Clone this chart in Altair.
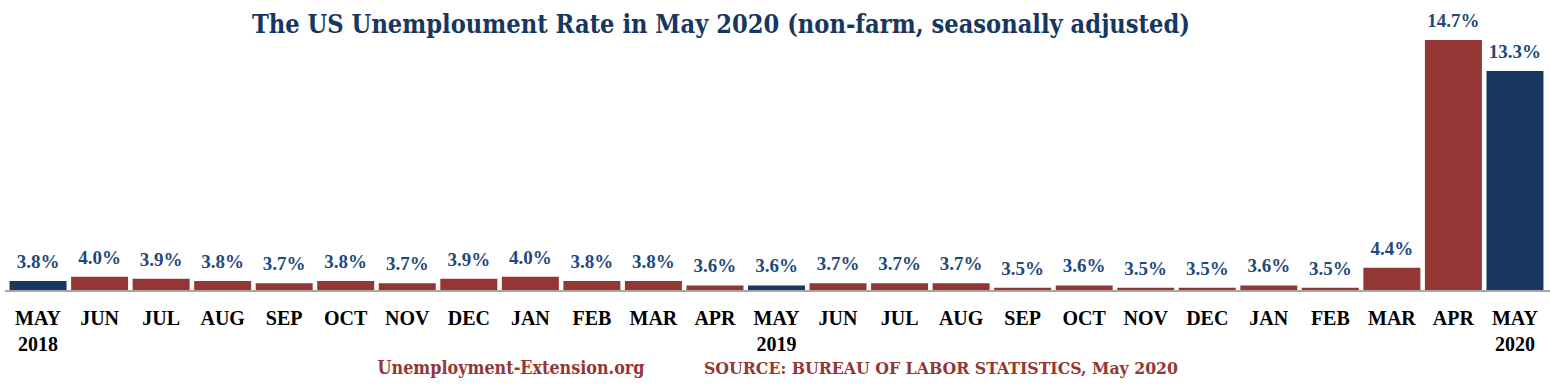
import altair as alt
import pandas as pd

months = ["MAY","JUN","JUL","AUG","SEP","OCT","NOV","DEC","JAN","FEB","MAR","APR",
          "MAY","JUN","JUL","AUG","SEP","OCT","NOV","DEC","JAN","FEB","MAR","APR","MAY"]
years = ["2018","","","","","","","","","","","",
         "2019","","","","","","","","","","","","2020"]
rates = [3.8,4.0,3.9,3.8,3.7,3.8,3.7,3.9,4.0,3.8,3.8,3.6,
         3.6,3.7,3.7,3.7,3.5,3.6,3.5,3.5,3.6,3.5,4.4,14.7,13.3]
keys = ["2018-05","2018-06","2018-07","2018-08","2018-09","2018-10","2018-11","2018-12",
        "2019-01","2019-02","2019-03","2019-04","2019-05","2019-06","2019-07","2019-08",
        "2019-09","2019-10","2019-11","2019-12","2020-01","2020-02","2020-03","2020-04","2020-05"]
BASE = 3.35
TOP = 14.7
title_text = "The US Unemploument Rate in May 2020 (non-farm, seasonally adjusted)"
footer_left = "Unemployment-Extension.org"
footer_right = "SOURCE: BUREAU OF LABOR STATISTICS, May 2020"

RED = "#943634"
NAVY = "#17375E"
LABEL = "#1F497D"

df = pd.DataFrame({
    "key": keys, "month": months, "year": years, "rate": rates,
    "label": [f"{r:.1f}%" for r in rates],
    "group": ["may" if m == "MAY" else "other" for m in months],
})

W, H = 1543, 251
FONT = "Liberation Serif"
TFONT = "DejaVu Serif Condensed"

x = alt.X("key:N", sort=keys, axis=None,
          scale=alt.Scale(paddingInner=0.074, paddingOuter=0.074))
y = alt.Y("rate:Q", axis=None, scale=alt.Scale(domain=[BASE, TOP], nice=False, zero=False))

base = alt.Chart(df)
bars = base.mark_bar().encode(
    x=x, y=y, y2=alt.datum(BASE),
    color=alt.Color("group:N", scale=alt.Scale(domain=["may", "other"], range=[NAVY, RED]), legend=None),
)
vals = base.mark_text(font=FONT, fontSize=19, fontWeight="bold", color=LABEL,
                      baseline="alphabetic", dy=-13).encode(x=x, y=y, text="label:N")
mon = base.mark_text(font=FONT, fontSize=20, fontWeight="bold", color="#000000",
                     baseline="alphabetic").encode(x=x, y=alt.value(285), text="month:N")
yr = base.mark_text(font=FONT, fontSize=20, fontWeight="bold", color="#000000",
                    baseline="alphabetic").encode(x=x, y=alt.value(311), text="year:N")
axisline = alt.Chart(pd.DataFrame({"b": [BASE]})).mark_rule(color="#A6A6A6", strokeWidth=2).encode(
    y=alt.Y("b:Q", scale=alt.Scale(domain=[BASE, TOP], nice=False, zero=False), axis=None),
    x=alt.value(0), x2=alt.value(W + 2))

one = pd.DataFrame({"t": [title_text], "f1": [footer_left], "f2": [footer_right]})
title = alt.Chart(one).mark_text(font=TFONT, fontSize=25.2, fontWeight="bold", color=NAVY,
                                 baseline="alphabetic", align="center").encode(
    x=alt.value(716), y=alt.value(-7), text="t:N")
f1 = alt.Chart(one).mark_text(font=TFONT, fontSize=17.8, fontWeight="bold", color=RED,
                              baseline="alphabetic", align="center").encode(
    x=alt.value(506), y=alt.value(334), text="f1:N")
f2 = alt.Chart(one).mark_text(font=TFONT, fontSize=17.5, fontWeight="bold", color=RED,
                              baseline="alphabetic", align="center").encode(
    x=alt.value(936), y=alt.value(334), text="f2:N")

chart = alt.layer(bars, axisline, vals, mon, yr, title, f1, f2).properties(
    width=W, height=H,
    background="white",
    autosize=alt.AutoSizeParams(type="none"),
    padding={"left": 5, "top": 40, "right": 2, "bottom": 95},
).configure_view(stroke=None, strokeWidth=0)

chart.save("out.html", embed_options={"renderer": "svg", "actions": False})
